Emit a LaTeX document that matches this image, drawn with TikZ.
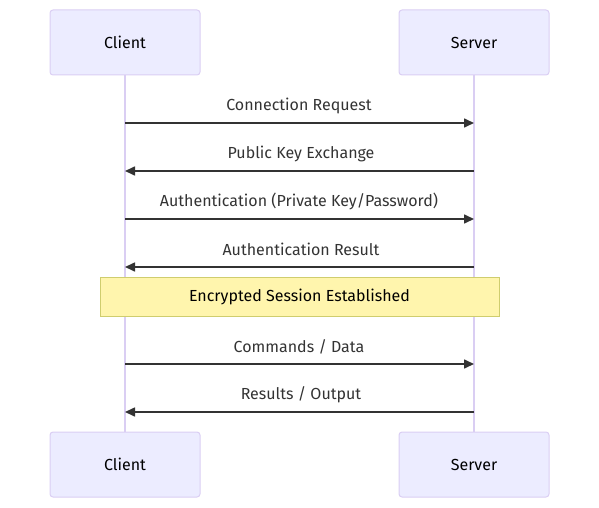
\documentclass[tikz,border=0pt]{standalone}
\usepackage{fontspec}
\setmainfont{Fira Sans}
\usetikzlibrary{arrows.meta}
\definecolor{actorfill}{HTML}{ECECFF}
\definecolor{actorline}{HTML}{DACEF3}
\definecolor{notefill}{HTML}{FFF5AD}
\definecolor{noteline}{HTML}{CFCD6E}
\definecolor{msgline}{HTML}{333333}
\begin{document}
\begin{tikzpicture}[
    x=1pt, y=-1pt,
    actor/.style={draw=actorline, fill=actorfill, line width=1pt, rounded corners=3pt, minimum width=150pt, minimum height=65pt, font=\fontsize{16}{19}\selectfont},
    note/.style={draw=noteline, fill=notefill, line width=1pt, minimum width=399pt, minimum height=39pt, font=\fontsize{16}{19}\selectfont},
    lifeline/.style={draw=actorline, line width=1.2pt},
    msg/.style={draw=msgline, line width=1.6pt, -{Triangle[length=10pt,width=9pt]}},
    msgtext/.style={font=\fontsize{16}{19}\selectfont, text=msgline}
]
    \useasboundingbox (0,0) rectangle (599,508);

    % participants
    \node[actor] (clientTop) at (125, 42.5) {Client};
    \node[actor] (serverTop) at (474, 42.5) {Server};
    \node[actor] (clientBot) at (125, 464.5) {Client};
    \node[actor] (serverBot) at (474, 464.5) {Server};

    % lifelines
    \draw[lifeline] (clientTop) -- (clientBot);
    \draw[lifeline] (serverTop) -- (serverBot);

    % message end points
    \coordinate (c1) at (125, 123); \coordinate (s1) at (474, 123);
    \coordinate (c2) at (125, 171); \coordinate (s2) at (474, 171);
    \coordinate (c3) at (125, 219); \coordinate (s3) at (474, 219);
    \coordinate (c4) at (125, 267); \coordinate (s4) at (474, 267);
    \coordinate (c5) at (125, 364); \coordinate (s5) at (474, 364);
    \coordinate (c6) at (125, 412); \coordinate (s6) at (474, 412);

    % messages
    \draw[msg] (c1) -- (s1);
    \node[msgtext] at (299, 105.5) {Connection Request};
    \draw[msg] (s2) -- (c2);
    \node[msgtext] at (301, 153.5) {Public Key Exchange};
    \draw[msg] (c3) -- (s3);
    \node[msgtext] at (299, 201.5) {Authentication (Private Key/Password)};
    \draw[msg] (s4) -- (c4);
    \node[msgtext] at (301, 249.5) {Authentication Result};

    \node[note] (session) at (299.5, 297) {Encrypted Session Established};

    \draw[msg] (c5) -- (s5);
    \node[msgtext] at (299, 346.5) {Commands / Data};
    \draw[msg] (s6) -- (c6);
    \node[msgtext] at (301, 394.5) {Results / Output};
\end{tikzpicture}
\end{document}
